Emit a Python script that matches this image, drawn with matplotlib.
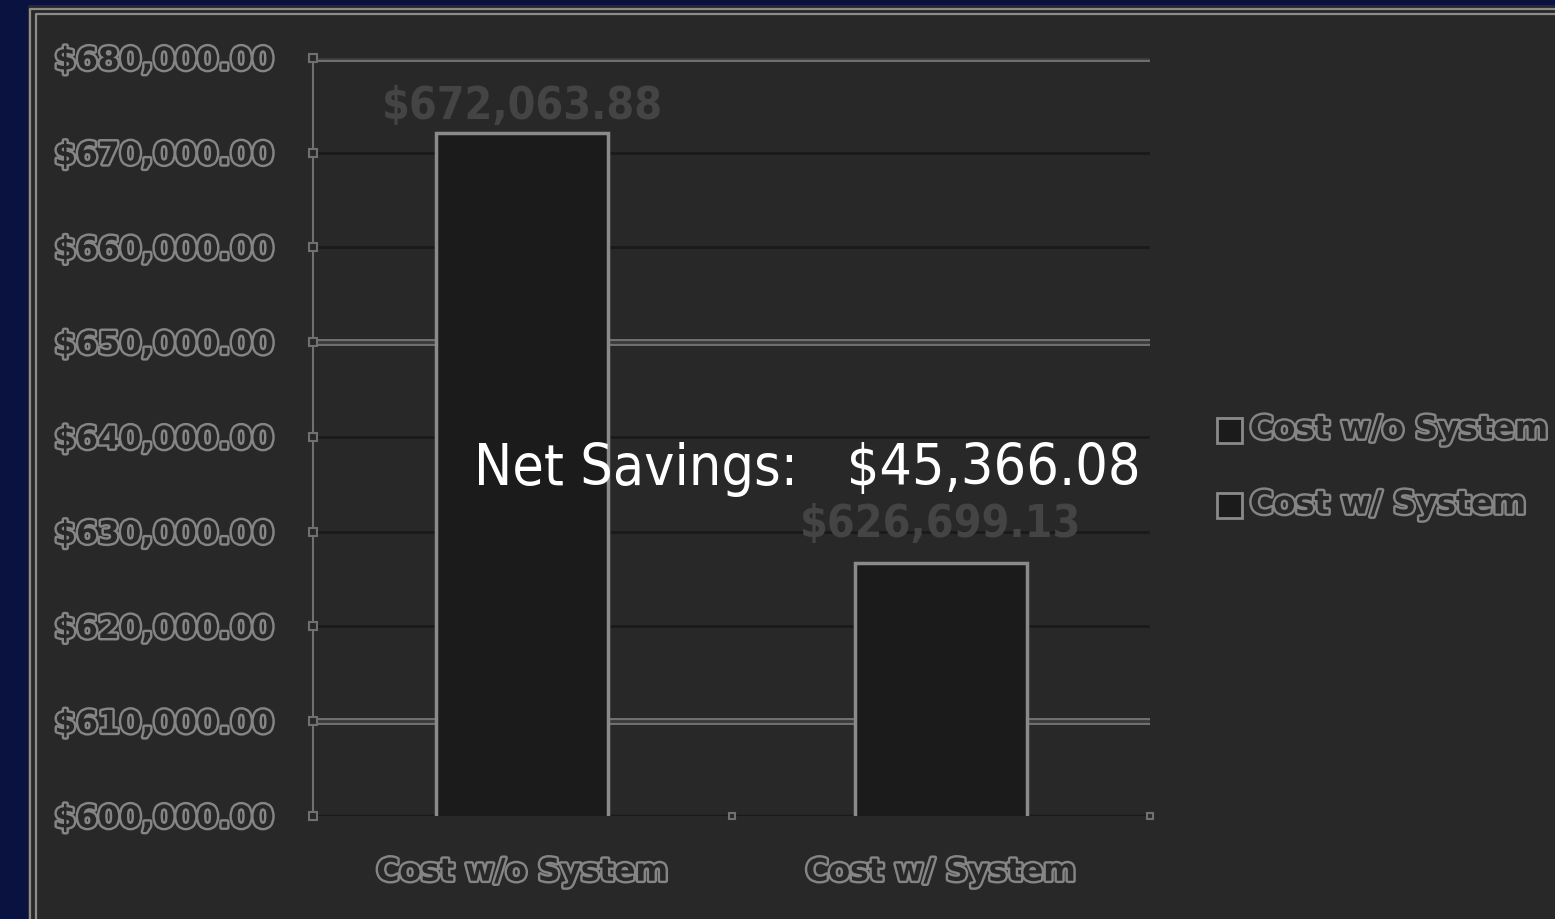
import matplotlib.pyplot as plt
import matplotlib.patheffects as pe
from matplotlib.patches import Rectangle
from matplotlib import font_manager

categories = ['Cost w/o System', 'Cost w/ System']
costs = [672063.88, 626699.13]
net_savings = 45366.08
y_ticks = [600000, 610000, 620000, 630000, 640000, 650000, 660000, 670000, 680000]

cond = [f for f in font_manager.fontManager.ttflist if 'Condensed' in f.fname or 'Narrow' in f.fname]
narrow_path = None
for f in cond:
    if 'Bold' not in f.fname and 'Oblique' not in f.fname and 'Italic' not in f.fname:
        narrow_path = f.fname
        break
narrow_bold_path = None
for f in cond:
    if 'Bold' in f.fname and 'Oblique' not in f.fname and 'Italic' not in f.fname:
        narrow_bold_path = f.fname
        break

panel = '#282828'
outline = [pe.Stroke(linewidth=3.5, foreground='#858585'), pe.Normal()]

fig = plt.figure(figsize=(15.55, 9.19), dpi=100)
fig.patch.set_facecolor('#0a1240')
fig.patches.append(Rectangle((28 / 1555, 0), 1, 1 - 5 / 919, transform=fig.transFigure,
                             facecolor=panel, edgecolor='none', zorder=-5))
for x0, y1 in [(30 / 1555, 1 - 9 / 919), (36 / 1555, 1 - 14 / 919)]:
    fig.add_artist(plt.Line2D([x0, x0, 1], [0, y1, y1], transform=fig.transFigure,
                              color='#8c8c8c', lw=1.6, zorder=-4))

ax = fig.add_axes([313 / 1555, 1 - 816 / 919, 837 / 1555, 758 / 919])
ax.set_facecolor(panel)

x = range(len(categories))
bars = ax.bar(x, costs, width=0.41, color='#1b1b1b', edgecolor='#8a8a8a', linewidth=2.5, zorder=3)
ax.set_xlim(-0.5, 1.5)
ax.set_ylim(600000, 680000)

# gridlines
ax.set_yticks(y_ticks)
ax.yaxis.grid(True, color='#1a1a1a', linewidth=2)
for v in [680000, 650000, 610000]:
    ax.axhline(v, color='#707070', linewidth=5, zorder=1)
    ax.axhline(v, color='#3a3a3a', linewidth=2, zorder=1)
ax.set_axisbelow(True)

for s in ['top', 'right', 'bottom']:
    ax.spines[s].set_visible(False)
ax.spines['left'].set_color('#707070')
ax.spines['left'].set_linewidth(1.5)
ax.axhline(600000, color='#1a1a1a', linewidth=2.5, zorder=2)

ax.tick_params(axis='y', length=0, pad=28)
ax.tick_params(axis='x', length=0, pad=30)
ax.set_yticklabels(['${:,.2f}'.format(v) for v in y_ticks])
ax.set_xticks(list(x))
ax.set_xticklabels(categories)
for lab in ax.get_yticklabels() + ax.get_xticklabels():
    lab.set_fontsize(22.5)
    lab.set_fontweight('bold')
    lab.set_color(panel)
    lab.set_path_effects(outline)

# tick marks as small squares
ax.plot([-0.5] * len(y_ticks), y_ticks, 's', ms=6, mfc=panel, mec='#707070', mew=1.5,
        clip_on=False, zorder=4)
ax.plot([0.5, 1.5], [600000, 600000], 's', ms=5, mfc=panel, mec='#707070', mew=1.5,
        clip_on=False, zorder=4)

lab_font = dict(fname=narrow_bold_path) if narrow_bold_path else dict(family='DejaVu Sans', weight='bold')
for b, v, off in zip(bars, costs, [4, 12]):
    ax.annotate('${:,.2f}'.format(v), (b.get_x() + b.get_width() / 2, v), xytext=(0, off),
                textcoords='offset points', ha='center', va='bottom', color='#444444',
                fontproperties=font_manager.FontProperties(size=32, **lab_font), zorder=5)

net_font = dict(fname=narrow_path) if narrow_path else dict(family='DejaVu Sans')
fig.text(807 / 1555, 1 - 470 / 919, 'Net Savings:   ${:,.2f}'.format(net_savings),
         ha='center', va='center', color='white',
         fontproperties=font_manager.FontProperties(size=41, **net_font), zorder=10)

for cat, yy in zip(categories, [430, 505]):
    fig.patches.append(Rectangle((1217 / 1555, 1 - (yy + 13) / 919), 25 / 1555, 25 / 919,
                                 transform=fig.transFigure, facecolor='#1b1b1b',
                                 edgecolor='#8a8a8a', linewidth=2, zorder=5))
    fig.text(1250 / 1555, 1 - yy / 919, cat, ha='left', va='center', fontsize=23,
             fontweight='bold', color=panel, path_effects=outline)

fig.savefig('out.png', dpi=100, facecolor=fig.get_facecolor())
